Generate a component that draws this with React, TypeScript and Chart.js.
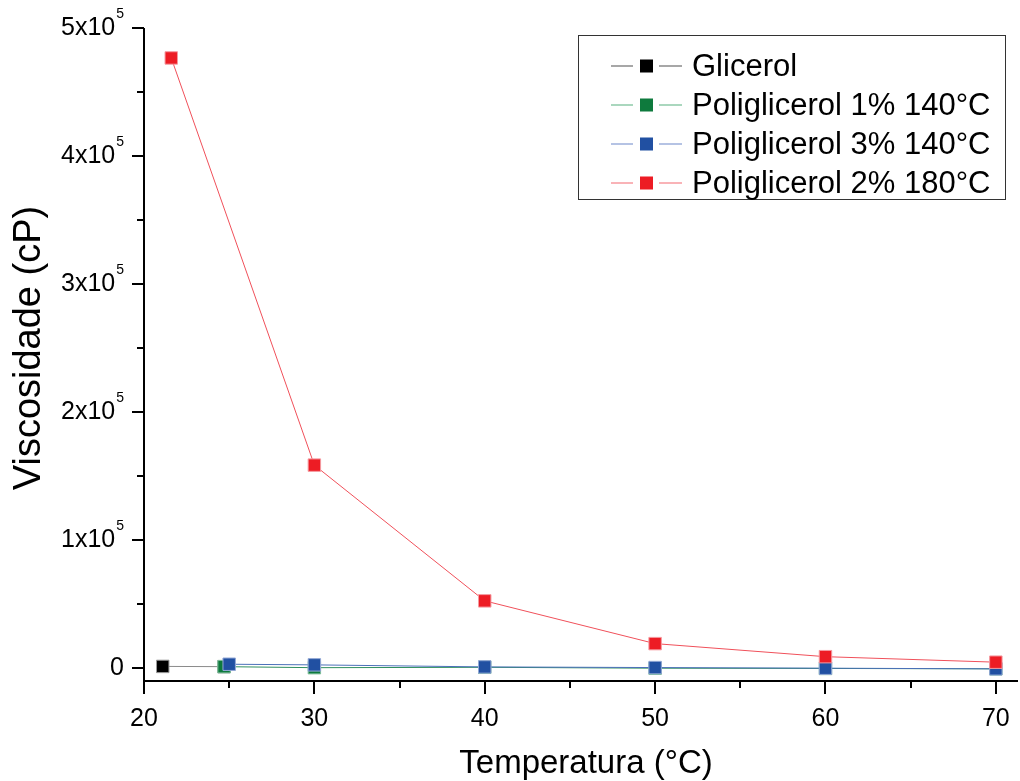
import React, { useEffect, useRef } from "react";
import { Chart, registerables } from "chart.js";

Chart.register(...registerables);

const glicerolTemps = [21.1, 24.7];
const glicerolVisc = [1400, 1200];
const pg1Temps = [24.7, 30, 40, 50, 60, 70];
const pg1Visc = [1200, 400, 700, 0, -200, -500];
const pg3Temps = [25, 30, 40, 50, 60, 70];
const pg3Visc = [3100, 2600, 1000, 500, 0, -500];
const pg2Temps = [21.6, 30, 40, 50, 60, 70];
const pg2Visc = [476600, 158600, 52600, 19200, 9000, 4700];

const xTicks = [20, 30, 40, 50, 60, 70];
const xMinorTicks = [25, 35, 45, 55, 65];
const yTicks = [0, 100000, 200000, 300000, 400000, 500000];
const yTickBases = ["0", "1x10", "2x10", "3x10", "4x10", "5x10"];
const yTickExps = ["", "5", "5", "5", "5", "5"];
const yMinorTicks = [50000, 150000, 250000, 350000, 450000];

const seriesNames = ["Glicerol", "Poliglicerol 1% 140°C", "Poliglicerol 3% 140°C", "Poliglicerol 2% 180°C"];
const markerColors = ["#000000", "#0E7A3D", "#2150A2", "#ED1C24"];
const markerBorders = ["#9a9a9a", "#7fbf9c", "#93a8d6", "#f59aa0"];
const lineColors = ["#8a8a8a", "#2f8f5f", "#4a70b8", "#f0505a"];
const legendLineColors = ["#8a8a8a", "#8fcaa9", "#9db0dc", "#f79aa0"];

const FONT = "'Liberation Sans', Arial, sans-serif";

const pts = (xs: number[], ys: number[]) => xs.map((x, i) => ({ x, y: ys[i] }));

const axesPlugin = {
  id: "originAxes",
  afterDraw(chart: any) {
    const ctx = chart.ctx as CanvasRenderingContext2D;
    const a = chart.chartArea;
    const xs = chart.scales.x;
    const ys = chart.scales.y;
    ctx.save();
    ctx.strokeStyle = "#000";
    ctx.fillStyle = "#000";
    ctx.lineWidth = 2;
    ctx.beginPath();
    ctx.moveTo(a.left, a.top);
    ctx.lineTo(a.left, a.bottom);
    ctx.lineTo(a.right, a.bottom);
    ctx.stroke();

    // x ticks
    ctx.beginPath();
    xTicks.forEach((v) => {
      const px = Math.round(xs.getPixelForValue(v));
      ctx.moveTo(px, a.bottom);
      ctx.lineTo(px, a.bottom + 13);
    });
    xMinorTicks.forEach((v) => {
      const px = Math.round(xs.getPixelForValue(v));
      ctx.moveTo(px, a.bottom);
      ctx.lineTo(px, a.bottom + 7);
    });
    // y ticks
    yTicks.forEach((v) => {
      const py = Math.round(ys.getPixelForValue(v));
      ctx.moveTo(a.left - 12, py);
      ctx.lineTo(a.left, py);
    });
    yMinorTicks.forEach((v) => {
      const py = Math.round(ys.getPixelForValue(v));
      ctx.moveTo(a.left - 7, py);
      ctx.lineTo(a.left, py);
    });
    ctx.stroke();

    // x labels
    ctx.font = `25px ${FONT}`;
    ctx.textAlign = "center";
    ctx.textBaseline = "middle";
    xTicks.forEach((v) => {
      const px = xs.getPixelForValue(v);
      ctx.fillText(String(v), px, a.bottom + 38);
    });

    // y labels
    yTicks.forEach((v, i) => {
      const py = ys.getPixelForValue(v);
      const exp = yTickExps[i];
      const right = a.left - 20;
      ctx.font = `14px ${FONT}`;
      const ew = exp ? ctx.measureText(exp).width + 1 : 0;
      ctx.font = `25px ${FONT}`;
      ctx.textAlign = "right";
      ctx.textBaseline = "middle";
      ctx.fillText(yTickBases[i], right - ew, py);
      if (exp) {
        ctx.font = `14px ${FONT}`;
        ctx.textAlign = "left";
        ctx.fillText(exp, right - ew + 1, py - 14);
      }
    });

    // titles
    ctx.font = `33px ${FONT}`;
    ctx.textAlign = "center";
    ctx.textBaseline = "middle";
    ctx.fillText("Temperatura (°C)", 586, 764);
    ctx.save();
    ctx.translate(30, 348);
    ctx.rotate(-Math.PI / 2);
    ctx.font = `38px ${FONT}`;
    ctx.fillText("Viscosidade (cP)", 0, 0);
    ctx.restore();

    // legend
    ctx.lineWidth = 1;
    ctx.strokeStyle = "#333";
    ctx.strokeRect(578.5, 35.5, 427, 164);
    const rows = [66, 105, 144, 183];
    seriesNames.forEach((name, i) => {
      const cy = rows[i];
      ctx.strokeStyle = legendLineColors[i];
      ctx.lineWidth = 1.5;
      ctx.beginPath();
      ctx.moveTo(611, cy);
      ctx.lineTo(633, cy);
      ctx.moveTo(659, cy);
      ctx.lineTo(682, cy);
      ctx.stroke();
      ctx.fillStyle = markerColors[i];
      ctx.fillRect(640, cy - 6.5, 13, 13);
      ctx.fillStyle = "#000";
      ctx.font = `31px ${FONT}`;
      ctx.textAlign = "left";
      ctx.textBaseline = "middle";
      ctx.fillText(name, 692, cy + 1);
    });
    ctx.restore();
  },
};

export default function App() {
  const ref = useRef<HTMLCanvasElement>(null);
  useEffect(() => {
    document.body.style.margin = "0";
    const seriesData = [
      pts(glicerolTemps, glicerolVisc),
      pts(pg1Temps, pg1Visc),
      pts(pg3Temps, pg3Visc),
      pts(pg2Temps, pg2Visc),
    ];
    const chart = new Chart(ref.current!, {
      type: "line",
      data: {
        datasets: seriesData.map((d, i) => ({
          label: seriesNames[i],
          data: d,
          borderColor: lineColors[i],
          borderWidth: 1,
          backgroundColor: markerColors[i],
          pointStyle: "rect",
          pointRadius: 8.8,
          pointBorderWidth: 1,
          pointBorderColor: markerBorders[i],
          pointBackgroundColor: markerColors[i],
          tension: 0,
          order: 3 - i,
          clip: false as any,
        })),
      },
      options: {
        animation: false,
        responsive: false,
        devicePixelRatio: 1,
        layout: { autoPadding: false, padding: { left: 144, top: 28, right: 2, bottom: 100 } },
        plugins: { legend: { display: false }, tooltip: { enabled: false } },
        scales: {
          x: { type: "linear", min: 20, max: 71.3, display: false },
          y: { type: "linear", min: -10000, max: 500000, display: false },
        },
      },
      plugins: [axesPlugin],
    });
    return () => chart.destroy();
  }, []);
  return (
    <div style={{ width: 1020, height: 781, background: "#fff" }}>
      <canvas ref={ref} width={1020} height={781} style={{ display: "block" }} />
    </div>
  );
}
